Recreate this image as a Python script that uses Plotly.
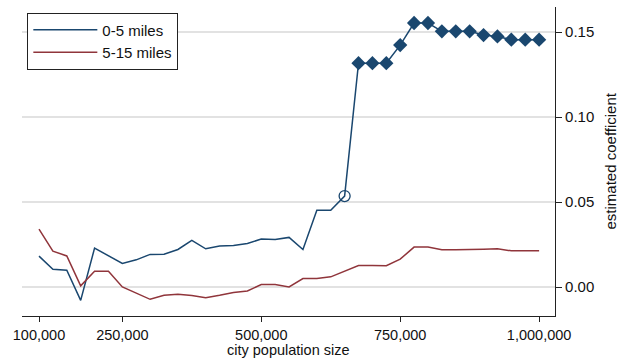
import plotly.graph_objects as go

population = list(range(100000, 1000001, 25000))

coef_0_5 = [0.0183, 0.0106, 0.0100, -0.0077, 0.0230, 0.0187, 0.0140, 0.0161, 0.0193, 0.0194,
            0.0222, 0.0275, 0.0226, 0.0243, 0.0245, 0.0257, 0.0283, 0.0281, 0.0293, 0.0222,
            0.0452, 0.0452, 0.0536, 0.1317, 0.1317, 0.1317, 0.1423, 0.1553, 0.1553, 0.1504,
            0.1504, 0.1504, 0.1482, 0.1474, 0.1455, 0.1455, 0.1455]

coef_5_15 = [0.0342, 0.0212, 0.0184, 0.0008, 0.0094, 0.0094, 0.0002, -0.0034, -0.0071, -0.0047,
             -0.0041, -0.0049, -0.0061, -0.0047, -0.0031, -0.0022, 0.0016, 0.0016, 0.0002, 0.0051,
             0.0051, 0.0061, 0.0096, 0.0128, 0.0128, 0.0126, 0.0165, 0.0236, 0.0236, 0.0220,
             0.0220, 0.0220, 0.0224, 0.0226, 0.0214, 0.0214, 0.0214]

# significance marker for 0-5 miles series: "" none, "o" hollow circle, "d" filled diamond
sig_0_5 = [""] * 22 + ["o"] + ["d"] * 14

x_ticks = [100000, 250000, 500000, 750000, 1000000]
x_tick_labels = ["100,000", "250,000", "500,000", "750,000", "1,000,000"]
y_ticks = [0.0, 0.05, 0.10, 0.15]
y_tick_labels = ["0.00", "0.05", "0.10", "0.15"]

BLUE = "#1a476f"
RED = "#90353b"
FONT = "Liberation Sans, Arial, sans-serif"

fig = go.Figure()
fig.add_trace(go.Scatter(x=population, y=coef_0_5, mode="lines", name="0-5 miles",
                         line=dict(color=BLUE, width=1.5)))
fig.add_trace(go.Scatter(x=population, y=coef_5_15, mode="lines", name="5-15 miles",
                         line=dict(color=RED, width=1.5)))

dx = [p for p, s in zip(population, sig_0_5) if s == "d"]
dy = [v for v, s in zip(coef_0_5, sig_0_5) if s == "d"]
ox = [p for p, s in zip(population, sig_0_5) if s == "o"]
oy = [v for v, s in zip(coef_0_5, sig_0_5) if s == "o"]
fig.add_trace(go.Scatter(x=dx, y=dy, mode="markers", showlegend=False,
                         marker=dict(symbol="diamond", size=11, color=BLUE,
                                     line=dict(width=0))))
fig.add_trace(go.Scatter(x=ox, y=oy, mode="markers", showlegend=False,
                         marker=dict(symbol="circle-open", size=11, color=BLUE,
                                     line=dict(width=1.3, color=BLUE))))

fig.update_layout(
    width=619, height=358,
    margin=dict(l=22, r=64, t=7, b=42, autoexpand=False),
    paper_bgcolor="white", plot_bgcolor="white",
    font=dict(family=FONT, size=15, color="#111111"),
    legend=dict(x=0.01, y=0.982, xanchor="left", yanchor="top",
                bordercolor="#222222", borderwidth=1, bgcolor="white",
                font=dict(size=15), itemwidth=64, tracegroupgap=0),
    xaxis=dict(range=[69400, 1028600], tickvals=x_ticks, ticktext=x_tick_labels,
               showgrid=False, zeroline=False, showline=True, linecolor="#222222",
               linewidth=1.2, ticks="outside", ticklen=5, tickcolor="#222222",
               tickfont=dict(size=14.5), automargin=False),
    yaxis=dict(range=[-0.0169, 0.1647], tickvals=y_ticks, ticktext=y_tick_labels,
               side="right", showgrid=True, gridcolor="#e2e2e2", gridwidth=1.5,
               zeroline=False, showline=True, linecolor="#222222", linewidth=1.2,
               ticks="outside", ticklen=6, tickcolor="#222222",
               automargin=False),
    annotations=[
        dict(text="city population size", xref="paper", yref="paper", x=0.5, y=0,
             xanchor="center", yanchor="middle", yshift=-33.5, showarrow=False,
             font=dict(size=14.5)),
        dict(text="estimated coefficient", xref="paper", yref="paper", x=1, y=0.5,
             xanchor="center", yanchor="middle", xshift=55, textangle=-90,
             showarrow=False, font=dict(size=15)),
    ],
)

fig.write_html("out.html", config={"displayModeBar": False},
               post_script="document.body.style.margin='0px';document.body.style.overflow='hidden';")
